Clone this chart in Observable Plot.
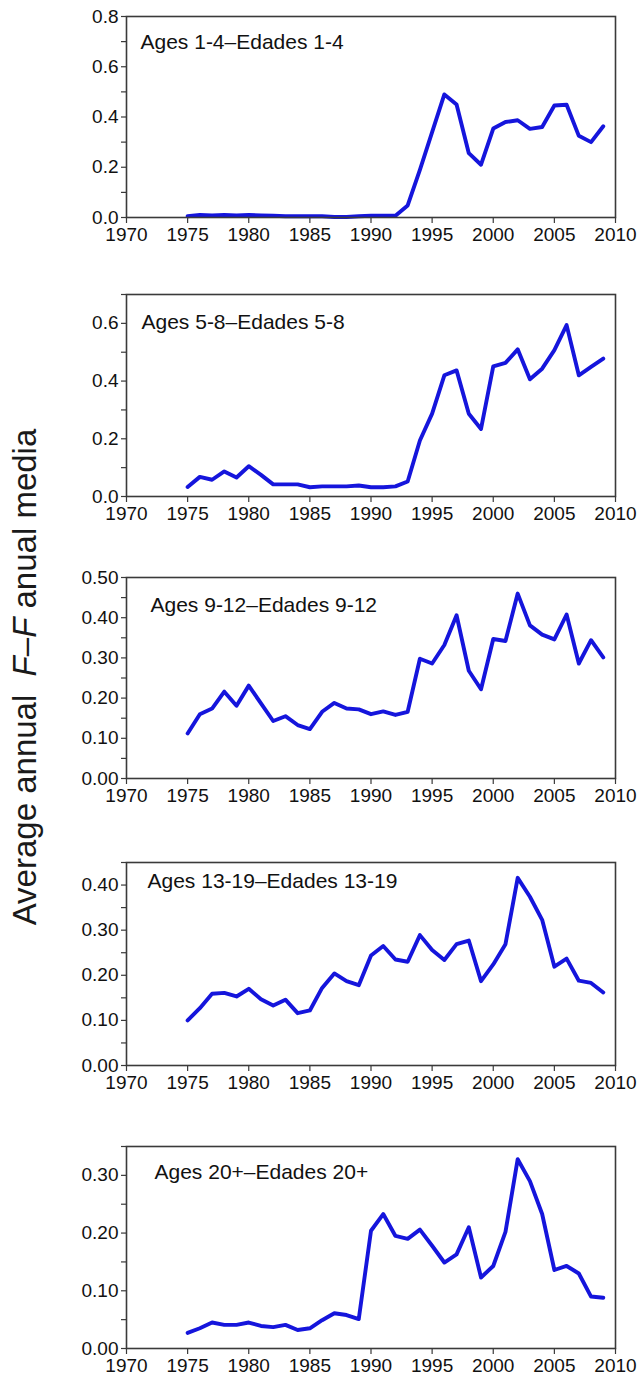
<!DOCTYPE html>
<html>
<head>
<meta charset="utf-8">
<script src="https://cdn.jsdelivr.net/npm/d3@7"></script>
<script src="https://cdn.jsdelivr.net/npm/@observablehq/plot@0.6"></script>
<style>
  html, body { margin: 0; padding: 0; background: #fff; }
  #wrap { position: relative; width: 641px; height: 1382px; font-family: Arial, "Liberation Sans", sans-serif; }
  #wrap svg { position: absolute; left: 0; overflow: visible; }
  #ytitle { position: absolute; left: 25px; top: 677px; transform: translate(-50%, -50%) rotate(-90deg);
            white-space: pre; font-size: 33px; color: #1a1a1a; font-family: Arial, "Liberation Sans", sans-serif; }
</style>
</head>
<body>
<div id="wrap">
  <div id="ytitle">Average annual  <i>F</i>–<i>F</i> anual media</div>
</div>
<script>
// ---- data ----
const years = [1975,1976,1977,1978,1979,1980,1981,1982,1983,1984,1985,1986,1987,1988,1989,1990,1991,1992,
               1993,1994,1995,1996,1997,1998,1999,2000,2001,2002,2003,2004,2005,2006,2007,2008,2009];

const ages1to4 = [0.005,0.010,0.008,0.010,0.008,0.010,0.008,0.007,0.005,0.005,0.005,0.005,0.002,0.002,0.005,0.007,0.007,0.007,
                  0.048,0.190,0.340,0.490,0.450,0.256,0.210,0.354,0.380,0.387,0.353,0.360,0.446,0.449,0.325,0.300,0.363];
const ages5to8 = [0.033,0.068,0.058,0.087,0.066,0.105,0.075,0.042,0.042,0.042,0.032,0.035,0.035,0.035,0.038,0.032,0.032,0.035,
                  0.052,0.194,0.287,0.420,0.437,0.287,0.234,0.451,0.463,0.510,0.406,0.443,0.507,0.594,0.420,0.449,0.478];
const ages9to12 = [0.112,0.160,0.174,0.216,0.181,0.231,0.187,0.143,0.155,0.133,0.123,0.166,0.188,0.174,0.172,0.160,0.167,0.158,
                   0.166,0.298,0.286,0.332,0.406,0.268,0.222,0.347,0.342,0.460,0.381,0.358,0.346,0.408,0.286,0.344,0.301];
const ages13to19 = [0.100,0.127,0.159,0.161,0.153,0.170,0.147,0.133,0.146,0.116,0.122,0.172,0.204,0.187,0.178,0.244,0.265,0.235,
                    0.230,0.289,0.256,0.234,0.269,0.277,0.187,0.224,0.269,0.416,0.374,0.323,0.219,0.237,0.188,0.183,0.162];
const ages20plus = [0.027,0.035,0.045,0.041,0.041,0.045,0.039,0.037,0.041,0.032,0.035,0.049,0.061,0.058,0.051,0.204,0.233,0.195,
                    0.190,0.206,0.178,0.149,0.163,0.210,0.123,0.143,0.202,0.328,0.290,0.233,0.136,0.143,0.130,0.090,0.088];

const panelLabels = ["Ages 1-4–Edades 1-4", "Ages 5-8–Edades 5-8", "Ages 9-12–Edades 9-12",
                     "Ages 13-19–Edades 13-19", "Ages 20+–Edades 20+"];
const xTickYears = [1970,1975,1980,1985,1990,1995,2000,2005,2010];
const yMax = [0.8, 0.7, 0.5, 0.45, 0.35];
const yMajorTicks = [[0,0.2,0.4,0.6,0.8],[0,0.2,0.4,0.6],[0,0.1,0.2,0.3,0.4,0.5],[0,0.1,0.2,0.3,0.4],[0,0.1,0.2,0.3]];
const yMinorTicks = [[0.1,0.3,0.5,0.7],[0.1,0.3,0.5,0.7],[0.05,0.15,0.25,0.35,0.45],[0.05,0.15,0.25,0.35,0.45],[0.05,0.15,0.25,0.35]];
const yDecimals = [1, 1, 2, 2, 2];
const series = [ages1to4, ages5to8, ages9to12, ages13to19, ages20plus];

// ---- layout ----
const frameTop = [16, 294, 577, 862, 1146];
const frameBottom = [217, 496, 778, 1065, 1348];
const labelDx = [14, 15, 24, 21, 28];
const labelDy = [26, 28, 28, 19, 26];
const mTop = 16, mBottom = 40;
const lineColor = "#1515dc";
const frameColor = "#3a3a3a";
const textColor = "#111";

const wrap = document.getElementById("wrap");
series.forEach((vals, i) => {
  const data = years.map((yr, k) => ({year: yr, v: vals[k]}));
  const fmt = d3.format("." + yDecimals[i] + "f");
  const chart = Plot.plot({
    width: 641,
    height: (frameBottom[i] - frameTop[i]) + mTop + mBottom,
    marginLeft: 126, marginRight: 26, marginTop: mTop, marginBottom: mBottom,
    style: {fontFamily: 'Arial, "Liberation Sans", sans-serif', fontSize: "19px", color: textColor, background: "transparent"},
    x: {domain: [1970, 2010]},
    y: {domain: [0, yMax[i]]},
    marks: [
      Plot.axisX(xTickYears, {tickFormat: d => String(d), tickSize: 6, tickPadding: 4, fontSize: 19,
                              stroke: frameColor, strokeWidth: 1.2, label: null}),
      Plot.axisY(yMajorTicks[i], {tickFormat: fmt, tickSize: 5, tickPadding: 3, fontSize: 19,
                                  stroke: frameColor, strokeWidth: 1.2, label: null}),
      Plot.axisY(yMinorTicks[i].filter(t => t <= yMax[i]), {tickFormat: () => "", tickSize: 5,
                                  stroke: frameColor, strokeWidth: 1.2, label: null}),
      Plot.line(data, {x: "year", y: "v", stroke: lineColor, strokeWidth: 3.9,
                       strokeLinejoin: "round", strokeLinecap: "round"}),
      Plot.frame({stroke: frameColor, strokeWidth: 1.6}),
      Plot.text([panelLabels[i]], {frameAnchor: "top-left", textAnchor: "start", lineAnchor: "middle",
                                   dx: labelDx[i], dy: labelDy[i], fontSize: 21, fill: textColor})
    ]
  });
  chart.style.top = (frameTop[i] - mTop) + "px";
  wrap.appendChild(chart);
});
</script>
</body>
</html>
